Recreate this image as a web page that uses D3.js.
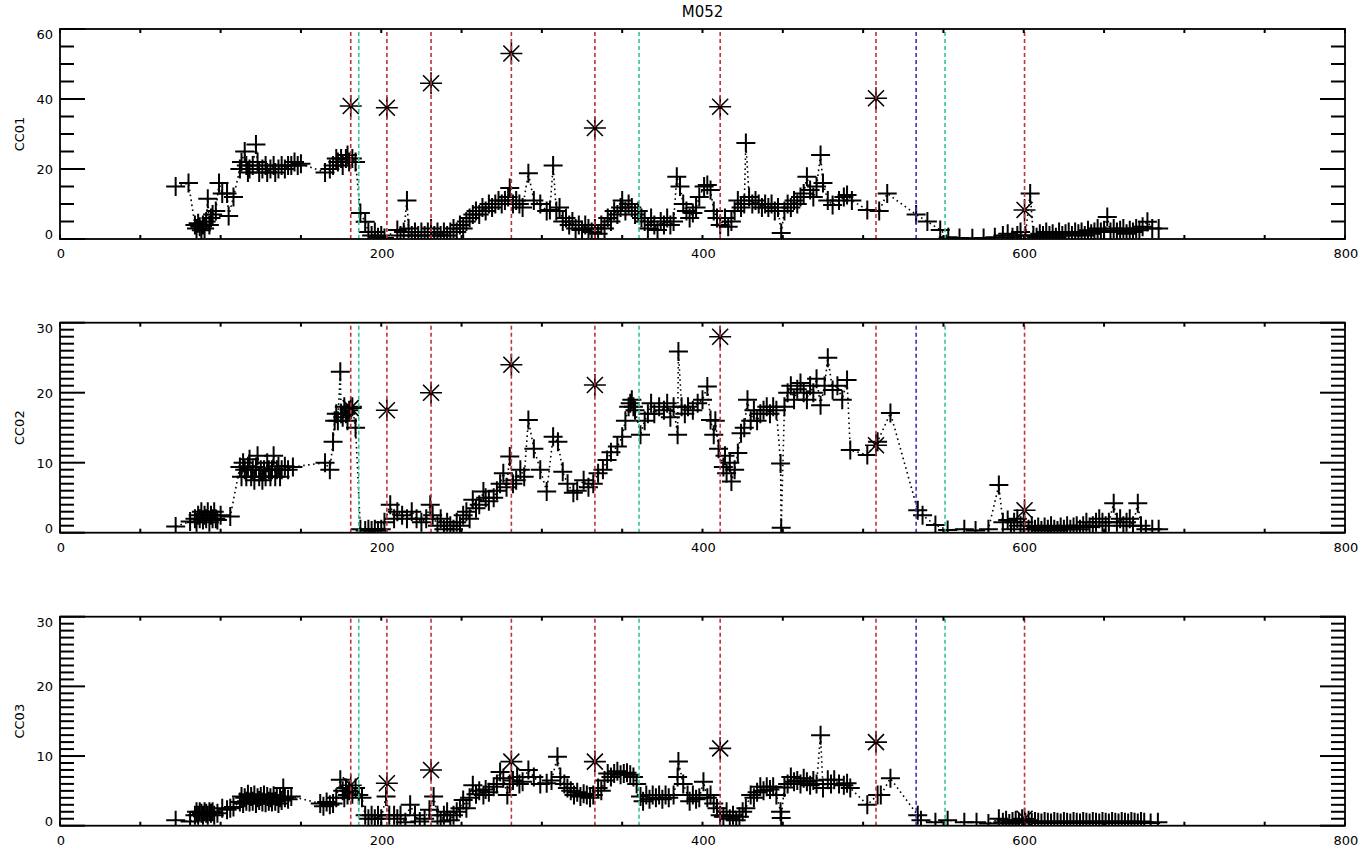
<!DOCTYPE html>
<html>
<head>
<meta charset="utf-8">
<script src="https://cdn.jsdelivr.net/npm/d3@7"></script>
<style>
  body { margin: 0; background: #fff; }
  text { font-family: "DejaVu Sans", sans-serif; fill: #000; }
</style>
</head>
<body>
<svg id="chart" width="1359" height="853"></svg>
<script>
// ---- data ----------------------------------------------------------------
const chartTitle = "M052";
const panelNames = ["CC01", "CC02", "CC03"];
const xTickLabels = [0, 200, 400, 600, 800];

// event markers (vertical dashed lines)
const redEvents = [181, 203.5, 231, 281, 333, 411, 508, 600.5];
const greenEvents = [186, 360.5, 551];
const blueEvents = [533];

// asterisk values at the red events, one list per panel
const cc01Stars = [38, 37.5, 44.5, 53, 31.7, 37.8, 40.2, 8.3];
const cc02Stars = [17.8, 17.5, 20, 24, 21.1, 28, 12.5, 3.2];
const cc03Stars = [5.8, 6.1, 8, 9.2, 9.2, 11.1, 12, 1];

// measured series [x, value]
const cc01 = [
[72,15],[80,16],[84,4],[85,3],[86,4.5],[87,3.5],[88,2.5],[89,4],[90,3],[91,5],[92,11.5],[93,4],[94,6],[95,7],[97,8],[99,16],[101,13],[104,13],[105,6.6],[108,12],
[112,20],[113,22],[115,25],[116,21],[117,19],[118,20],[120,21],[122,27],[123,22],[124,19],[126,20],[128,21],[129,19],[131,20],[133,21],[134,19],[136,20],[138,21],[140,20],[142,21],[144,21],[146,22],[148,21],[150,21.5],
[165,19],[168,20],[170,21],[172,23],[173,22],[175,23],[176,21],[178,23],[179,24],[180,22],[182,23],[184,22],
[187,7.4],[190,4.9],[192,2],[194,1],[196,2],[198,0.5],[200,1],[202,0.3],
[210,2.6],[212,1],[214,2],[216,11],[217,3],[219,1],[221,2],[223,1],[225,2],[227,1],[229,2],[231,3],[233,1],[235,2],[237,1],[239,2],[241,1],[243,2],[245,3],[247,2],[249,4],[251,3],[253,5],[255,6],[257,7],[259,8],[261,7],[263,9],[265,8],[267,10],[269,9],[271,10],[273,11],[275,10],[277,11],[279,12],[280,14.6],[282,10],[284,11],[286,10],[288,9],
[291.6,18.8],[295,11],[299,10],[303,8],[305,8.3],[307,21],[309,8],[311,9],[313,5],[315,6],[317,4],[319,5],[321,3],[323,4],[325,2.6],[327,4],[329,3],[331,2],[333,3],[335,1.5],[337,4],[339,3],[341,6],[343,5],[345,8],[347,7],[349,9],[350,11],[352,8],[354,10],[356,9],[358,7],[360,8],[362,6],[364,5],[366,3],[368,6],[370,4],[372,2.6],[374,5],[376,4],[378,6],[380,4],[382,5],
[384,17.8],[386,15],[388,10],[390,8],[392,6],[394,7.4],[396,9],[398,12],[401,15],[403,15.4],[405,14],[407,8],[409,6],[411,4],[414,6],[416,3.5],[418,5],[420,8],[422,11],[424,9],[426,10],[427,27.4],[429,12],[431,10],[433,11],[435,10],[437,9],[439,10],[441,9],[443,10],[445,8],[447,9],[449,1.7],[451,8],[453,10],[455,9],[457,11],[459,10],[461,12],[463,13],[465,17.8],[467,14],[469,12],[471,15],[473.5,24],[475,16],[478,11],[481,9.7],[485,11],[488,12],[490,12.6],[493,11],[502.6,8.3],[510,8],[515,13],
[533,7],[540,5],[548,2.6],[553,0.5],[560,0.3],[568,0.2],[575,0.3],[582,0.5],[587,1],[590,1.5],[593,0.5],[596,1],[598,2],[601,1],[604,13],[606,1],[608,0.5],[610,1.5],[612,1],[614,2],[616,1],[618,1.5],[620,0.5],[622,2],[624,1],[626,1.5],[628,2],[630,1],[632,2],[634,1.5],[636,2],[638,1],[640,2.5],[642,1.5],[644,2],[646,3],[648,2],[650,2.5],[652,6.3],[654,2],[656,3],[658,2],[660,2.5],[662,3],[664,1.5],[666,2.5],[668,2],[670,3],[672,2.5],[674,3.5],[677,4.9],[680,3],[684,3]
];

const cc02 = [
[72,0.9],[81,1.6],[84,2],[85,1.5],[86,2.5],[87,2],[88,3],[89,1.8],[90,2.5],[91,2],[92,3],[93,1.5],[94,2.5],[95,2],[96,3],[97,2],[98,1.8],[100,2.5],[106,2.3],
[112,9.4],[113,8],[114,10],[115,9],[116,8],[117,9.5],[118,10.5],[119,8],[120,9],[121,7.5],[122,9.4],[123,11],[124,8],[125,9],[126,7.5],[127,9],[128,8],[129,10],[130,9],[131,8],[132,9],[133,11],[134,8],[135,9],[136,9.5],[137,8],[138,9],[140,9.5],[142,9],[145,9.4],
[165,10],[168,9],[170,13],[171,16],[172,17],[173,16],[174.5,23],[175,17],[176,16.5],[177,18],[178,17],[179,16],[180,17.5],[182,18],[184,15],
[187,0.5],[190,0.3],[192,0.5],[194,0.3],[196,0.5],[198,0.3],[200,0.5],[202,1.5],[205.6,4],[208,2],[210,3],[213,2.5],[216,2],[219,3],[222,2],[225,1.5],[228,2],[230.5,4],[232,2.5],[235,1],[237,2],[239,0.5],[241,1.5],[243,1],[245,0.5],[247,1.5],[249,1],[251,2.5],[253,3],[255,2],[257,4.7],[259,3.5],[261,4],[263.6,5.9],[265,5],[267,4.5],[270,5],[272,6],[274,7],[276,8.5],[278,6.5],[280,10.9],[282,7],[284,7.5],[286.6,9],[289,8],
[291.6,16.1],[295,12],[299,9],[303,5.9],[307,13.7],[310,13],[313,8.7],[316,7],[319.6,5.7],[322,6],[326,7.5],[329,6.5],[332,7],[335,8.5],[338,9],[340.6,10.4],[343,11.5],[347,12.3],[350,13.7],[352,16],[354,18],[355,18.5],[356,19],[357,18],[358,17.5],[361.4,14],[364,16],[366,17],[368,18.5],[370,17],[373,18],[376,17.5],[378,18.5],[380,16.5],[382,18],[384.5,14],[385,25.9],[387,18],[389,17],[391,18],[394,17.5],[397,18.5],[400,19],[403,20.9],[405,16.1],[407,14],[408,16],[410,12],
[413,9.4],[414,11],[415,8.5],[417,10],[418,7.3],[420,9],[422,11.4],[424,14.2],[426,15],[428,19],[430,16],[432,17.5],[434,16],[436,17],[438,17.5],[440,18],[442,17],[444,18],[446,17.5],[448.6,9.9],[449,0.7],[451,18],[453,20],[455,21],[457,19],[459,20.5],[461,21.4],[463,20],[465,19],[467,21],[469,20],[471,22],[473.5,18.2],[476,21],[478,25],[481,20.4],[484,21],[487,19],[490,21.8],[492,11.8],[502.6,11.1],[509,13],[517,17.1],
[534,3.2],[537,2.5],[545,1.1],[552.6,0.4],[563,0.5],[570,0.3],[578,0.5],[584.5,6.8],[587,1.5],[590,1.8],[592,0.5],[594,1.5],[596,2],[598,1],[600,1.5],[603,0.5],[605,1],[607,0.5],[609,0.8],[611,0.3],[613,0.8],[615,0.5],[617,1],[619,0.5],[621,0.3],[623,0.8],[625,0.5],[627,1],[629,0.5],[631,0.8],[633,1],[635,0.5],[637,1],[639,1.5],[641,0.8],[643,1],[645,1.5],[647,2],[649,1.5],[651,1],[653,1.5],[656,4.2],[658,1.5],[660,2],[662,1],[664,1.5],[666,2],[668,1],[671,4.2],[673,1],[676,0.5],[680,0.5],[684,0.5]
];

const cc03 = [
[72,0.8],[81,0.6],[84,1.5],[85,2],[86,1.5],[87,2],[88,1.8],[89,1.5],[90,2],[91,1.8],[92,1.5],[93,2],[94,1.8],[95,2],[96,1.5],[98,1.8],[101,2.5],[104,2.3],[106,2.5],[108,2.7],
[112,3.4],[113,4.2],[114,3.2],[115,4],[116,3.5],[117,4.5],[118,3.4],[119,4.2],[120,3.5],[121,4.4],[122,3.2],[123,4],[124,3.6],[125,4.2],[126,3.4],[127,4.4],[128,3.3],[129,4.2],[130,3.5],[131,4],[132,3.4],[133,4.3],[134,3.5],[135,4.2],[136,3.2],[137,4],[138,3.6],[139,5.4],[140,4],[142,3.8],[144,4.2],
[162,3.2],[164,2.8],[166,3.4],[168,3],[170,3.2],[172,4],[174.5,6.6],[176,5],[177,4],[178,5.4],[179,4.4],[180,5],[182,4.5],[184,5.4],[186,4.4],[188,4],
[190,1.5],[192,1],[194,1.5],[196,1],[198,1.5],[200,1],[203,4.2],[205,1.5],[208,1.5],[210,1],[212,1.5],[215,0.5],[218,3],[221,1.5],[224,0.6],[227,1],[230,2.3],[232.6,4.2],[235,1.5],[237,0.6],[239,1.5],[241,2],[243,0.8],[245,1.5],[247,2],[249,2.5],[251,3.7],[253,2.5],[255,4],[257,5.8],[259,4.5],[261,5],[263.6,4.4],[265,5.2],[267,4.8],[270,5.6],[272,6],[274,7.7],[276,6.8],[278.5,4.4],[280,6],[282,6.5],[284.6,7],[286,6],[288,6.3],
[291.6,8],[295,7],[299,6],[303,6.1],[306,6.5],[309.7,9.9],[311.5,7],[314,6],[315.9,5.4],[318,5],[320,4.4],[322,4.8],[324,4.2],[326,4.6],[328,4.4],[330,4],[332,4.4],[335,5.4],[337,5],[339,6.5],[341,7.5],[343,7],[345,7.5],[347,7.8],[349,7.3],[351,7.5],[353,7.6],[355,7.3],[357,7],[359,6],[361.4,4.2],[363,3.5],[365,4.4],[367,3.8],[369,4.4],[371,4],[373,4.4],[375,3.8],[377,4.4],[379,4],[382,4.4],[384.5,7],[385,9.2],[388,6],[390.7,4.4],[392,3.5],[394,4.4],[396,3.8],[398,4],[400.6,6.3],[403,4],[405,4.4],[407,3.2],[409,2.5],[411,1.5],
[413,1.3],[415,2],[417,1],[419,1.5],[421,0.8],[423,1.3],[425,2],[427,2.5],[430,4.4],[432,4],[434,4.8],[436,5.6],[438,5],[440,5.6],[442,5.2],[444,5.6],[446,4.4],[448.6,2],[449,1.1],[451,5.5],[453,6],[455,7],[457,6.3],[459,6.5],[461,6],[463,6.8],[465,6.3],[467,5.8],[469,6.5],[471,6],[473.5,13],[475,5.4],[478,6.6],[480,6],[482,6.6],[485,6],[488,5.8],[490,6.1],[492,5.4],[502.6,3],[509,4.4],[511,4.4],[517,6.8],
[534,1.5],[536,0.8],[545,0.5],[552.6,0.8],[563,0.5],[570.6,0.5],[578,0.3],[584.5,1],[587,0.5],[589,0.8],[591,0.3],[593,0.6],[595,0.8],[597,0.5],[599,1],[601,0.5],[603,0.8],[605,0.5],[607,0.6],[609,0.5],[611,0.4],[613,0.6],[615,0.5],[617,0.4],[619,0.6],[621,0.5],[623,0.4],[625,0.6],[627,0.5],[629,0.4],[631,0.6],[633,0.5],[635,0.4],[637,0.6],[639,0.5],[641,0.4],[643,0.6],[645,0.5],[647,0.4],[649,0.6],[651,0.5],[653,0.4],[655,0.6],[657,0.5],[659,0.4],[661,0.6],[663,0.5],[665,0.4],[667,0.6],[669,0.5],[671,0.4],[673,0.6],[675,0.5],[679,0.4],[683.5,0.5]
];

// ---- layout --------------------------------------------------------------
const svg = d3.select("#chart");
const plotLeft = 60, plotRight = 1345;
const x = d3.scaleLinear().domain([0, 800]).range([plotLeft, plotRight]);

const panels = [
  { name: panelNames[0], data: cc01, stars: cc01Stars, yMax: 60, major: 20, minor: 5, top: 29, bottom: 239 },
  { name: panelNames[1], data: cc02, stars: cc02Stars, yMax: 30, major: 10, minor: 1, top: 322.7, bottom: 532.7 },
  { name: panelNames[2], data: cc03, stars: cc03Stars, yMax: 30, major: 10, minor: 1, top: 616.7, bottom: 825.7 }
];

const plusPath = "M-9.5,0H9.5M0,-9.5V9.5";
const starPath = "M-11,0H11M0,-11V11M-8,-8L8,8M-8,8L8,-8";

svg.append("text")
  .attr("x", (plotLeft + plotRight) / 2).attr("y", 17)
  .attr("text-anchor", "middle")
  .style("font-size", "15px")
  .text(chartTitle);

panels.forEach((p, i) => {
  const y = d3.scaleLinear().domain([0, p.yMax]).range([p.bottom, p.top]);
  const g = svg.append("g");
  const clipId = "clip" + i;
  svg.append("clipPath").attr("id", clipId)
    .append("rect").attr("x", plotLeft).attr("y", p.top)
    .attr("width", plotRight - plotLeft).attr("height", p.bottom - p.top);

  const yTicks = d3.range(0, p.yMax + 0.001, p.minor);
  const majorVals = yTicks.filter(v => v % p.major === 0);
  const xMinor = d3.range(0, 801, 50);
  const tickLen = v => (v % p.major === 0 ? 25 : 14);

  // y tick labels (end labels nudged inside the axis range)
  g.append("g").selectAll("text").data(majorVals).join("text")
    .attr("x", plotLeft - 7)
    .attr("y", d => y(d) + (d === p.yMax ? 10 : d === 0 ? 0 : 5))
    .attr("text-anchor", "end").style("font-size", "13px")
    .text(d3.format("d"));

  // x tick labels
  g.append("g").selectAll("text").data(xTickLabels).join("text")
    .attr("x", d => x(d) + 1).attr("y", p.bottom + 19)
    .attr("text-anchor", "middle").style("font-size", "13px")
    .text(d => d);

  // y title
  g.append("text")
    .attr("transform", `translate(24,${(p.top + p.bottom) / 2}) rotate(-90)`)
    .attr("text-anchor", "middle").style("font-size", "13px")
    .text(p.name);

  const plot = g.append("g").attr("clip-path", `url(#${clipId})`);

  // dotted connecting line
  plot.append("path").datum(p.data)
    .attr("fill", "none").attr("stroke", "#000").attr("stroke-width", 1.6)
    .attr("stroke-dasharray", "1.6,3.4")
    .attr("d", d3.line().x(d => x(d[0])).y(d => y(d[1])));

  // plus markers
  plot.append("g").selectAll("path").data(p.data).join("path")
    .attr("transform", d => `translate(${x(d[0])},${y(d[1])})`)
    .attr("d", plusPath).attr("stroke", "#000").attr("stroke-width", 2).attr("fill", "none");

  // asterisks at the red events
  plot.append("g").selectAll("path").data(redEvents.map((e, k) => [e, p.stars[k]])).join("path")
    .attr("transform", d => `translate(${x(d[0])},${y(d[1])})`)
    .attr("d", starPath).attr("stroke", "#000").attr("stroke-width", 1.6).attr("fill", "none");

  // event lines
  const evLines = (vals, color) => plot.append("g").selectAll("line").data(vals).join("line")
    .attr("x1", d => x(d)).attr("x2", d => x(d))
    .attr("y1", p.bottom).attr("y2", p.top + 2)
    .attr("stroke", color).attr("stroke-width", 1.6).attr("stroke-dasharray", "4,3");
  evLines(redEvents, "#c0303e");
  evLines(greenEvents, "#34c88a");
  evLines(blueEvents, "#3c32b4");

  // frame
  g.append("rect").attr("x", plotLeft).attr("y", p.top)
    .attr("width", plotRight - plotLeft).attr("height", p.bottom - p.top)
    .attr("fill", "none").attr("stroke", "#000").attr("stroke-width", 1.8);

  // y ticks on both sides pointing inward (majors longer)
  const tg = g.append("g").attr("stroke", "#000").attr("stroke-width", 2);
  tg.selectAll("line.yl").data(yTicks).join("line").attr("class", "yl")
    .attr("x1", plotLeft).attr("x2", d => plotLeft + tickLen(d))
    .attr("y1", d => y(d)).attr("y2", d => y(d));
  tg.selectAll("line.yr").data(yTicks).join("line").attr("class", "yr")
    .attr("x1", plotRight).attr("x2", d => plotRight - tickLen(d))
    .attr("y1", d => y(d)).attr("y2", d => y(d));
  // x ticks, short, every 50 along bottom and top
  tg.selectAll("line.xb").data(xMinor).join("line").attr("class", "xb")
    .attr("x1", d => x(d)).attr("x2", d => x(d))
    .attr("y1", p.bottom).attr("y2", p.bottom - 4);
  tg.selectAll("line.xt").data(xMinor).join("line").attr("class", "xt")
    .attr("x1", d => x(d)).attr("x2", d => x(d))
    .attr("y1", p.top).attr("y2", p.top + 4);
});
</script>
</body>
</html>
